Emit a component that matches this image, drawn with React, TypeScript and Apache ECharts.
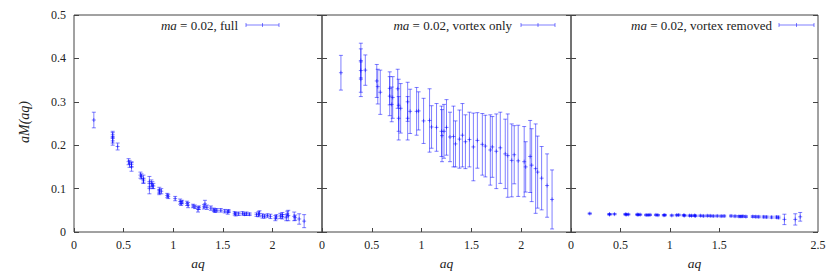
import React, { useEffect, useRef } from "react";
import * as echarts from "echarts";

// ---- data: panel 1 (full) ----
const fullX = [0.20, 0.39, 0.39, 0.39, 0.44, 0.55, 0.56, 0.58, 0.58, 0.67, 0.68, 0.70, 0.70, 0.76, 0.76, 0.78, 0.79, 0.80, 0.86, 0.86, 0.88, 0.94, 0.95, 1.02, 1.07, 1.08, 1.09, 1.14, 1.15, 1.20, 1.22, 1.25, 1.26, 1.31, 1.32, 1.34, 1.38, 1.41, 1.42, 1.44, 1.48, 1.52, 1.55, 1.56, 1.62, 1.63, 1.66, 1.70, 1.72, 1.74, 1.77, 1.84, 1.86, 1.87, 1.90, 1.92, 1.95, 1.98, 2.03, 2.04, 2.08, 2.10, 2.10, 2.14, 2.15, 2.16, 2.22, 2.23, 2.27, 2.32];
const fullY = [0.258, 0.217, 0.210, 0.224, 0.197, 0.162, 0.157, 0.150, 0.156, 0.131, 0.128, 0.122, 0.118, 0.116, 0.100, 0.112, 0.108, 0.106, 0.096, 0.092, 0.094, 0.084, 0.082, 0.077, 0.070, 0.066, 0.069, 0.066, 0.062, 0.060, 0.058, 0.052, 0.056, 0.058, 0.065, 0.057, 0.055, 0.051, 0.049, 0.050, 0.050, 0.048, 0.046, 0.048, 0.043, 0.041, 0.042, 0.043, 0.041, 0.042, 0.041, 0.040, 0.041, 0.043, 0.037, 0.036, 0.038, 0.036, 0.032, 0.035, 0.037, 0.035, 0.040, 0.033, 0.042, 0.038, 0.036, 0.033, 0.030, 0.025];
const fullErr = [0.018, 0.012, 0.010, 0.008, 0.008, 0.007, 0.008, 0.010, 0.006, 0.007, 0.006, 0.009, 0.006, 0.012, 0.012, 0.008, 0.008, 0.006, 0.007, 0.006, 0.006, 0.005, 0.005, 0.005, 0.006, 0.005, 0.004, 0.005, 0.006, 0.004, 0.004, 0.006, 0.004, 0.005, 0.008, 0.005, 0.005, 0.004, 0.004, 0.004, 0.004, 0.004, 0.005, 0.003, 0.004, 0.004, 0.004, 0.004, 0.003, 0.004, 0.003, 0.004, 0.006, 0.006, 0.005, 0.004, 0.004, 0.005, 0.006, 0.005, 0.006, 0.005, 0.005, 0.007, 0.006, 0.012, 0.010, 0.006, 0.012, 0.015];

// ---- data: panel 2 (vortex only) ----
const vortX = [0.19, 0.39, 0.39, 0.39, 0.435, 0.55, 0.56, 0.585, 0.68, 0.68, 0.70, 0.71, 0.76, 0.77, 0.77, 0.79, 0.86, 0.86, 0.885, 0.95, 0.97, 1.02, 1.08, 1.10, 1.15, 1.20, 1.205, 1.225, 1.25, 1.285, 1.32, 1.34, 1.38, 1.41, 1.44, 1.48, 1.52, 1.56, 1.61, 1.64, 1.69, 1.71, 1.75, 1.79, 1.84, 1.865, 1.905, 1.93, 1.97, 2.03, 2.045, 2.09, 2.105, 2.145, 2.165, 2.205, 2.26, 2.31];
const vortY = [0.367, 0.395, 0.372, 0.352, 0.373, 0.348, 0.335, 0.322, 0.331, 0.313, 0.294, 0.310, 0.330, 0.292, 0.262, 0.285, 0.300, 0.262, 0.278, 0.278, 0.279, 0.256, 0.257, 0.242, 0.241, 0.232, 0.222, 0.232, 0.241, 0.219, 0.220, 0.203, 0.214, 0.223, 0.208, 0.213, 0.196, 0.211, 0.202, 0.198, 0.189, 0.196, 0.186, 0.194, 0.180, 0.176, 0.165, 0.178, 0.164, 0.162, 0.150, 0.174, 0.154, 0.146, 0.138, 0.124, 0.107, 0.075];
const vortErr = [0.040, 0.040, 0.050, 0.040, 0.035, 0.038, 0.040, 0.051, 0.038, 0.045, 0.040, 0.048, 0.045, 0.060, 0.050, 0.057, 0.045, 0.050, 0.051, 0.055, 0.044, 0.052, 0.073, 0.049, 0.055, 0.058, 0.060, 0.062, 0.064, 0.057, 0.070, 0.053, 0.067, 0.073, 0.062, 0.063, 0.078, 0.064, 0.071, 0.071, 0.081, 0.070, 0.086, 0.082, 0.080, 0.096, 0.084, 0.067, 0.082, 0.081, 0.058, 0.083, 0.084, 0.103, 0.083, 0.073, 0.073, 0.068];

// ---- data: panel 3 (vortex removed) ----
const remX = [0.19, 0.39, 0.39, 0.44, 0.55, 0.56, 0.58, 0.67, 0.68, 0.70, 0.76, 0.78, 0.80, 0.86, 0.88, 0.94, 0.95, 1.02, 1.07, 1.09, 1.14, 1.15, 1.20, 1.22, 1.25, 1.26, 1.31, 1.34, 1.38, 1.41, 1.44, 1.48, 1.52, 1.55, 1.62, 1.66, 1.70, 1.72, 1.74, 1.77, 1.84, 1.87, 1.90, 1.95, 1.98, 2.03, 2.08, 2.10, 2.16, 2.27, 2.32];
const remY = [0.0425, 0.0410, 0.0405, 0.0412, 0.0408, 0.0402, 0.0405, 0.0402, 0.0398, 0.0400, 0.0392, 0.0390, 0.0395, 0.0394, 0.0388, 0.0387, 0.0390, 0.0382, 0.0388, 0.0392, 0.0385, 0.0380, 0.0378, 0.0375, 0.0380, 0.0372, 0.0376, 0.0370, 0.0374, 0.0372, 0.0368, 0.0370, 0.0366, 0.0368, 0.0370, 0.0364, 0.0360, 0.0358, 0.0362, 0.0355, 0.0356, 0.0352, 0.0350, 0.0348, 0.0345, 0.0340, 0.0342, 0.0335, 0.0290, 0.0290, 0.0350];
const remErr = [0.0015, 0.0015, 0.0015, 0.0015, 0.0015, 0.0015, 0.0015, 0.0015, 0.0015, 0.0015, 0.0016, 0.0016, 0.0016, 0.0016, 0.0016, 0.0016, 0.0016, 0.0017, 0.0017, 0.0017, 0.0017, 0.0017, 0.0018, 0.0018, 0.0018, 0.0018, 0.0018, 0.0019, 0.0019, 0.0019, 0.0019, 0.0019, 0.002, 0.002, 0.002, 0.002, 0.002, 0.0021, 0.0021, 0.0021, 0.0022, 0.0022, 0.0022, 0.0023, 0.0023, 0.0024, 0.0025, 0.003, 0.012, 0.013, 0.010];

const panelLabels = ["full", "vortex only", "vortex removed"];
const xTicksLast = [0, 0.5, 1, 1.5, 2.5];

const BAR_COLOR = "rgba(0,0,255,0.5)";
const AXIS_COLOR = "#444";
const TEXT_COLOR = "#222";
const FONT = "Liberation Serif, DejaVu Serif, serif";

const GRID_TOP = 15;
const GRID_H = 217;
const GRIDS = [
  { left: 74, width: 248 },
  { left: 322, width: 249 },
  { left: 571, width: 247 },
];
const LEGEND_POS = [
  { textRight: 238, lineX1: 246, lineX2: 279 },
  { textRight: 512, lineX1: 521, lineX2: 555 },
  { textRight: 772, lineX1: 779, lineX2: 814 },
];

function toData(xs: number[], ys: number[], es: number[]) {
  return xs.map((x, i) => [x, ys[i], es[i]]);
}

function renderErr(params: any, api: any) {
  const x = api.value(0);
  const y = api.value(1);
  const e = api.value(2);
  const top = api.coord([x, y + e]);
  const bot = api.coord([x, y - e]);
  const mid = api.coord([x, y]);
  const cw = 2;
  const style = { stroke: BAR_COLOR, lineWidth: 1, fill: "none" };
  return {
    type: "group",
    children: [
      { type: "line", shape: { x1: top[0], y1: top[1], x2: bot[0], y2: bot[1] }, style },
      { type: "line", shape: { x1: top[0] - cw, y1: top[1], x2: top[0] + cw, y2: top[1] }, style },
      { type: "line", shape: { x1: bot[0] - cw, y1: bot[1], x2: bot[0] + cw, y2: bot[1] }, style },
      { type: "line", shape: { x1: mid[0] - 2, y1: mid[1], x2: mid[0] + 2, y2: mid[1] }, style },
      { type: "line", shape: { x1: mid[0], y1: mid[1] - 2, x2: mid[0], y2: mid[1] + 2 }, style },
    ],
  };
}

export default function App() {
  const ref = useRef<HTMLDivElement>(null);
  useEffect(() => {
    if (!ref.current) return;
    const chart = echarts.init(ref.current, undefined, { renderer: "svg" });
    const datasets = [
      toData(fullX, fullY, fullErr),
      toData(vortX, vortY, vortErr),
      toData(remX, remY, remErr),
    ];
    const grid = GRIDS.map((g) => ({
      left: g.left,
      width: g.width,
      top: GRID_TOP,
      height: GRID_H,
      show: true,
      borderColor: AXIS_COLOR,
      borderWidth: 1,
      backgroundColor: "transparent",
    }));
    const xAxis = GRIDS.map((_, i) => {
      const base: any = {
        type: "value",
        gridIndex: i,
        min: 0,
        max: 2.5,
        interval: 0.5,
        axisLine: { show: false },
        splitLine: { show: false },
        axisTick: { show: true, inside: true, length: 4, lineStyle: { color: AXIS_COLOR } },
        axisLabel: {
          show: true,
          margin: 7,
          color: TEXT_COLOR,
          fontFamily: FONT,
          fontSize: 12,
          formatter: (v: number) => (i < 2 && v === 2.5 ? "" : String(v)),
        },
      };
      if (i === 2) {
        base.axisTick.customValues = [0.5, 1, 1.5];
        base.axisLabel.customValues = xTicksLast;
        base.axisLabel.formatter = (v: number) => String(v);
      }
      return base;
    });
    const yAxis: any[] = [];
    GRIDS.forEach((_, i) => {
      ["left", "right"].forEach((pos) => {
        yAxis.push({
          type: "value",
          gridIndex: i,
          position: pos,
          min: 0,
          max: 0.5,
          interval: 0.1,
          axisLine: { show: false },
          splitLine: { show: false },
          axisTick: { show: true, inside: true, length: 5, lineStyle: { color: AXIS_COLOR } },
          axisLabel: {
            show: i === 0 && pos === "left",
            margin: 8,
            color: TEXT_COLOR,
            fontFamily: FONT,
            fontSize: 12,
            formatter: (v: number) => (v === 0 ? "0" : v.toFixed(1)),
          },
        });
      });
    });
    const series = datasets.map((d, i) => ({
      type: "custom",
      xAxisIndex: i,
      yAxisIndex: i * 2,
      data: d,
      dimensions: ["x", "y", "err"],
      encode: { x: 0, y: 1 },
      renderItem: renderErr,
      clip: true,
      silent: true,
    }));

    const graphic: any[] = [];
    graphic.push({
      type: "text",
      x: 24,
      y: 122,
      rotation: Math.PI / 2,
      style: {
        text: "aM(aq)",
        fontFamily: FONT,
        fontStyle: "italic",
        fontSize: 14,
        fill: TEXT_COLOR,
        textAlign: "center",
        textVerticalAlign: "middle",
      },
    });
    GRIDS.forEach((g, i) => {
      graphic.push({
        type: "text",
        x: g.left + g.width / 2,
        y: 263,
        style: {
          text: "aq",
          fontFamily: FONT,
          fontStyle: "italic",
          fontSize: 13.5,
          fill: TEXT_COLOR,
          textAlign: "center",
          textVerticalAlign: "middle",
        },
      });
      const lp = LEGEND_POS[i];
      graphic.push({
        type: "text",
        x: lp.textRight,
        y: 25,
        style: {
          text: "{i|ma} = 0.02, " + panelLabels[i],
          fontFamily: FONT,
          fontSize: 13,
          fill: TEXT_COLOR,
          textAlign: "right",
          textVerticalAlign: "middle",
          rich: {
            i: { fontFamily: FONT, fontStyle: "italic", fontSize: 13, fill: TEXT_COLOR },
          },
        },
      });
      const ls = { stroke: BAR_COLOR, lineWidth: 1 };
      const midX = (lp.lineX1 + lp.lineX2) / 2;
      graphic.push(
        { type: "line", shape: { x1: lp.lineX1, y1: 25, x2: lp.lineX2, y2: 25 }, style: ls },
        { type: "line", shape: { x1: lp.lineX1, y1: 23, x2: lp.lineX1, y2: 27 }, style: ls },
        { type: "line", shape: { x1: lp.lineX2, y1: 23, x2: lp.lineX2, y2: 27 }, style: ls },
        { type: "line", shape: { x1: midX, y1: 23, x2: midX, y2: 27 }, style: ls }
      );
    });

    chart.setOption({
      animation: false,
      backgroundColor: "#fff",
      grid,
      xAxis,
      yAxis,
      series,
      graphic,
    });
    return () => chart.dispose();
  }, []);
  return (
    <div
      ref={ref}
      style={{ position: "absolute", left: 0, top: 0, width: 830, height: 271 }}
    />
  );
}
